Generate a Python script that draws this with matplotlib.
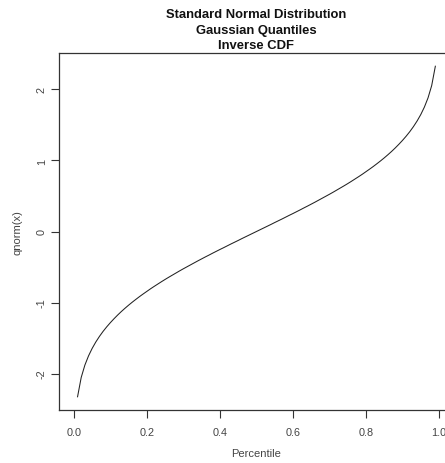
import numpy as np
import matplotlib
matplotlib.use("Agg")
import matplotlib.pyplot as plt

plt.rcParams['font.family'] = ['Liberation Sans', 'DejaVu Sans']

# Percentile grid (0.01 .. 0.99)
percentile = [round(0.01 * i, 2) for i in range(1, 100)]

# Quantile values
qnorm_vals = [
    -2.326, -2.054, -1.881, -1.751, -1.645, -1.555, -1.476, -1.405, -1.341, -1.282,
    -1.227, -1.175, -1.126, -1.080, -1.036, -0.994, -0.954, -0.915, -0.878, -0.842,
    -0.806, -0.772, -0.739, -0.706, -0.674, -0.643, -0.613, -0.583, -0.553, -0.524,
    -0.496, -0.468, -0.440, -0.412, -0.385, -0.358, -0.332, -0.305, -0.279, -0.253,
    -0.228, -0.202, -0.176, -0.151, -0.126, -0.100, -0.075, -0.050, -0.025, 0.000,
    0.025, 0.050, 0.075, 0.100, 0.126, 0.151, 0.176, 0.202, 0.228, 0.253,
    0.279, 0.305, 0.332, 0.358, 0.385, 0.412, 0.440, 0.468, 0.496, 0.524,
    0.553, 0.583, 0.613, 0.643, 0.674, 0.706, 0.739, 0.772, 0.806, 0.842,
    0.878, 0.915, 0.954, 0.994, 1.036, 1.080, 1.126, 1.175, 1.227, 1.282,
    1.341, 1.405, 1.476, 1.555, 1.645, 1.751, 1.881, 2.054, 2.326,
]

xticks = [0.0, 0.2, 0.4, 0.6, 0.8, 1.0]
xticklabels = ["0.0", "0.2", "0.4", "0.6", "0.8", "1.0"]
yticks = [-2, -1, 0, 1, 2]
yticklabels = ["-2", "-1", "0", "1", "2"]

W, H = 445, 464
fig = plt.figure(figsize=(W / 100, H / 100), dpi=100)
left, right, top, bottom = 59.3, 453.6, 54, 411
ax = fig.add_axes([left / W, 1 - bottom / H, (right - left) / W, (bottom - top) / H])

ax.plot(percentile, qnorm_vals, color='#222222', lw=0.75)
ax.set_xlim(-0.04, 1.04)
ax.set_ylim(-2.512, 2.512)

ax.set_xticks(xticks)
ax.set_xticklabels(xticklabels)
ax.set_yticks(yticks)
ax.set_yticklabels(yticklabels, rotation=90, va='center')

tc = '#444444'
ax.tick_params(axis='both', direction='out', length=6, width=0.8, color='#333333',
               labelsize=7.8, labelcolor=tc)
ax.tick_params(axis='x', pad=6)
ax.tick_params(axis='y', pad=3)
for s in ax.spines.values():
    s.set_linewidth(0.9)
    s.set_color('#333333')

ax.set_xlabel('Percentile', fontsize=8, color=tc, labelpad=8)
ax.set_ylabel('qnorm(x)', fontsize=8, color=tc, labelpad=10)

title_lines = ['Standard Normal Distribution', 'Gaussian Quantiles', 'Inverse CDF']
title_y = [15, 30.7, 46]
for txt, yy in zip(title_lines, title_y):
    fig.text((left + right) / 2 / W, 1 - yy / H, txt,
             ha='center', va='center', fontsize=9.4, fontweight='bold', color='#111111')

fig.savefig('out.png', dpi=100)
